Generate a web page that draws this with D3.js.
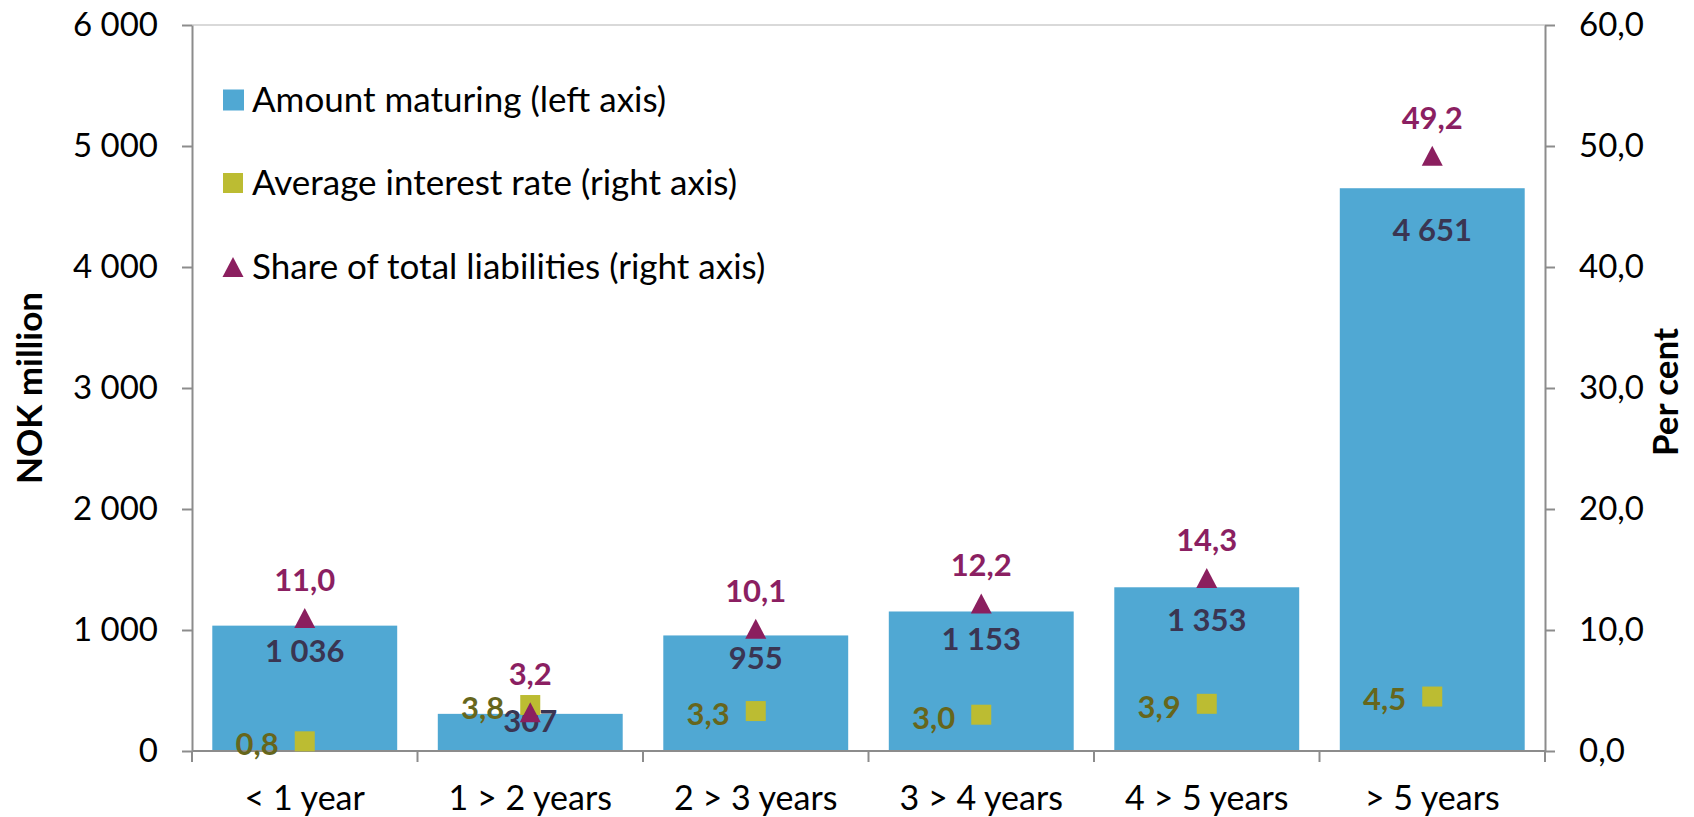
<!DOCTYPE html>
<html>
<head>
<meta charset="utf-8">
<script src="https://cdn.jsdelivr.net/npm/d3@7"></script>
<style>
  body { margin: 0; background: #fff; }
  svg text { font-family: Lato, "Open Sans", sans-serif; }
</style>
</head>
<body>
<div id="chart-area"></div>
<script>
const W = 1694;
const H = 817;
const MARGIN = { LEFT: 192, RIGHT: 149, TOP: 25, BOTTOM: 66 };

const categories = ['< 1 year', '1 > 2 years', '2 > 3 years', '3 > 4 years', '4 > 5 years', '> 5 years'];
const amount = [1036, 307, 955, 1153, 1353, 4651];   // NOK million, left axis
const rate = [0.8, 3.8, 3.3, 3.0, 3.9, 4.5];         // per cent, right axis
const share = [11.0, 3.2, 10.1, 12.2, 14.3, 49.2];   // per cent, right axis
const leftTicks = [0, 1000, 2000, 3000, 4000, 5000, 6000];
const rightTicks = [0, 10, 20, 30, 40, 50, 60];
const legendLabels = ['Amount maturing (left axis)', 'Average interest rate (right axis)', 'Share of total liabilities (right axis)'];

const BAR = '#50a8d3';
const SQUARE = '#bcbc32';
const TRI = '#8b1f5f';
const AXIS = '#8c8c8c';

const locale = d3.formatLocale({ decimal: ',', thousands: ' ', grouping: [3], currency: ['', ''] });
const fmtInt = locale.format(',d');
const fmt1 = locale.format('.1f');

const svg = d3.select('#chart-area').append('svg')
  .attr('width', W)
  .attr('height', H);

const x = d3.scaleBand()
  .domain(categories)
  .range([MARGIN.LEFT, W - MARGIN.RIGHT])
  .paddingInner(0.18)
  .paddingOuter(0.09);

const yL = d3.scaleLinear().domain([0, 6000]).range([H - MARGIN.BOTTOM, MARGIN.TOP]);
const yR = d3.scaleLinear().domain([0, 60]).range([H - MARGIN.BOTTOM, MARGIN.TOP]);

const cx = c => x(c) + x.bandwidth() / 2;

// top border of plot area
svg.append('line')
  .attr('x1', MARGIN.LEFT).attr('x2', W - MARGIN.RIGHT)
  .attr('y1', yL(6000)).attr('y2', yL(6000))
  .attr('stroke', '#d9d9d9').attr('stroke-width', 2);

// bars
svg.selectAll('rect.bar').data(categories).enter().append('rect')
  .attr('class', 'bar')
  .attr('x', d => x(d))
  .attr('y', (d, i) => yL(amount[i]))
  .attr('width', x.bandwidth())
  .attr('height', (d, i) => yL(0) - yL(amount[i]))
  .attr('fill', BAR);

// axes
const gL = svg.append('g')
  .attr('transform', `translate(${MARGIN.LEFT},0)`)
  .call(d3.axisLeft(yL).tickValues(leftTicks).tickFormat(fmtInt).tickSize(10).tickSizeOuter(0).tickPadding(24));

const gR = svg.append('g')
  .attr('transform', `translate(${W - MARGIN.RIGHT},0)`)
  .call(d3.axisRight(yR).tickValues(rightTicks).tickFormat(fmt1).tickSize(10).tickSizeOuter(0).tickPadding(24));

[gL, gR].forEach(g => {
  g.selectAll('path.domain').attr('stroke', AXIS).attr('stroke-width', 2);
  g.selectAll('.tick line').attr('stroke', AXIS).attr('stroke-width', 2);
  g.selectAll('.tick text').attr('fill', '#000').style('font-size', '33px');
});

// category axis
const gX = svg.append('g');
gX.append('line')
  .attr('x1', MARGIN.LEFT).attr('x2', W - MARGIN.RIGHT)
  .attr('y1', yL(0)).attr('y2', yL(0))
  .attr('stroke', AXIS).attr('stroke-width', 2);
gX.selectAll('line.ctick').data(d3.range(categories.length + 1)).enter().append('line')
  .attr('class', 'ctick')
  .attr('x1', i => MARGIN.LEFT + i * x.step()).attr('x2', i => MARGIN.LEFT + i * x.step())
  .attr('y1', yL(0)).attr('y2', yL(0) + 11)
  .attr('stroke', AXIS).attr('stroke-width', 2);
gX.selectAll('text').data(categories).enter().append('text')
  .attr('x', d => cx(d))
  .attr('y', yL(0) + 59)
  .attr('text-anchor', 'middle')
  .style('font-size', '34px')
  .text(d => d);

// bar labels
svg.selectAll('text.barlab').data(categories).enter().append('text')
  .attr('class', 'barlab')
  .attr('x', d => cx(d))
  .attr('y', (d, i) => {
    const h = yL(0) - yL(amount[i]);
    return yL(amount[i]) + Math.min(42, h / 5);
  })
  .attr('dy', '0.35em')
  .attr('text-anchor', 'middle')
  .attr('fill', '#3a3552')
  .style('font-size', '31px').style('font-weight', 'bold')
  .text((d, i) => fmtInt(amount[i]));

// interest rate squares
svg.selectAll('rect.sq').data(categories).enter().append('rect')
  .attr('class', 'sq')
  .attr('x', d => cx(d) - 10)
  .attr('y', (d, i) => yR(rate[i]) - 10)
  .attr('width', 20).attr('height', 20)
  .attr('fill', SQUARE);

svg.selectAll('text.sqlab').data(categories).enter().append('text')
  .attr('class', 'sqlab')
  .attr('x', d => cx(d) - 26)
  .attr('y', (d, i) => yR(rate[i]) + 3)
  .attr('dy', '0.35em')
  .attr('text-anchor', 'end')
  .attr('fill', '#66661c')
  .style('font-size', '31px').style('font-weight', 'bold')
  .text((d, i) => fmt1(rate[i]));

// share triangles
const tri = 'M0,-10L10.5,10L-10.5,10Z';
svg.selectAll('path.tri').data(categories).enter().append('path')
  .attr('class', 'tri')
  .attr('transform', (d, i) => `translate(${cx(d)},${yR(share[i])})`)
  .attr('d', tri)
  .attr('fill', TRI);

svg.selectAll('text.trilab').data(categories).enter().append('text')
  .attr('class', 'trilab')
  .attr('x', d => cx(d))
  .attr('y', (d, i) => yR(share[i]) - 38)
  .attr('dy', '0.35em')
  .attr('text-anchor', 'middle')
  .attr('fill', '#8b1f62')
  .style('font-size', '31px').style('font-weight', 'bold')
  .text((d, i) => fmt1(share[i]));

// axis titles
svg.append('text')
  .attr('transform', `translate(42,${(yL(0) + yL(6000)) / 2}) rotate(-90)`)
  .attr('text-anchor', 'middle')
  .style('font-size', '35px').style('font-weight', 'bold')
  .text('NOK million');

svg.append('text')
  .attr('transform', `translate(1678,${(yL(0) + yL(6000)) / 2 + 4}) rotate(-90)`)
  .attr('text-anchor', 'middle')
  .style('font-size', '35px').style('font-weight', 'bold')
  .text('Per cent');

// legend
const legendY = [100, 183, 267];
const lg = svg.append('g').attr('transform', 'translate(233,0)');
lg.append('rect').attr('x', -10).attr('y', legendY[0] - 10.5).attr('width', 21).attr('height', 21).attr('fill', BAR);
lg.append('rect').attr('x', -10).attr('y', legendY[1] - 10).attr('width', 20).attr('height', 20).attr('fill', SQUARE);
lg.append('path').attr('transform', `translate(0,${legendY[2]})`).attr('d', tri).attr('fill', TRI);
lg.selectAll('text').data(legendLabels).enter().append('text')
  .attr('x', 19)
  .attr('y', (d, i) => legendY[i])
  .attr('dy', '0.35em')
  .style('font-size', '35px')
  .text(d => d);
</script>
</body>
</html>
